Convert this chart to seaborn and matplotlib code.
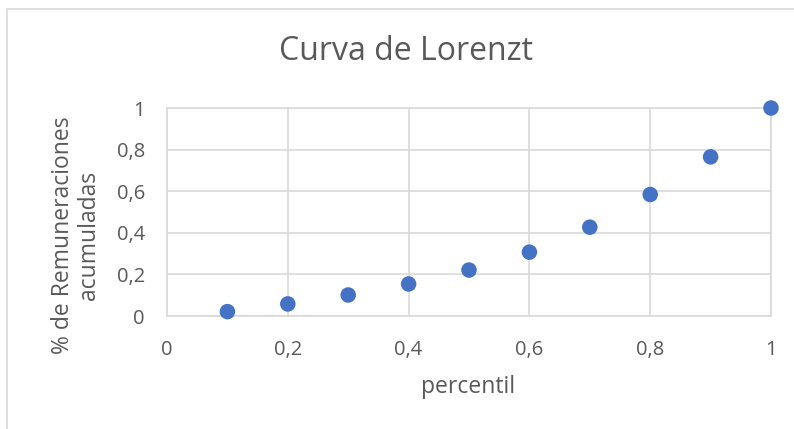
import pandas as pd
import seaborn as sns
import matplotlib.pyplot as plt
from matplotlib.patches import Rectangle

# === Data ===
percentil = [0.1, 0.2, 0.3, 0.4, 0.5, 0.6, 0.7, 0.8, 0.9, 1.0]
remuneraciones = [0.021, 0.058, 0.101, 0.154, 0.221, 0.307, 0.427, 0.584, 0.765, 1.0]
x_ticks = [0, 0.2, 0.4, 0.6, 0.8, 1]
y_ticks = [0, 0.2, 0.4, 0.6, 0.8, 1]

df = pd.DataFrame({"percentil": percentil, "acumulado": remuneraciones})

sns.set_style("white")
plt.rcParams['font.family'] = ['Open Sans', 'DejaVu Sans']

text_color = "#595959"
grid_color = "#D9D9D9"

fig = plt.figure(figsize=(7.94, 4.29), dpi=100)
ax = fig.add_axes([167 / 794, 1 - 316 / 429, 604 / 794, 208 / 429])

sns.scatterplot(data=df, x="percentil", y="acumulado", ax=ax, s=125,
                color="#4472C4", edgecolor="none", clip_on=False, zorder=3)

ax.set_xlim(0, 1)
ax.set_ylim(0, 1)
ax.set_xticks(x_ticks)
ax.set_yticks(y_ticks)
fmt = lambda v: f"{v:g}".replace(".", ",")
ax.set_xticklabels([fmt(v) for v in x_ticks])
ax.set_yticklabels([fmt(v) for v in y_ticks])
ax.tick_params(axis="both", length=0, labelsize=14.5, colors=text_color)
ax.tick_params(axis="x", pad=17)
ax.tick_params(axis="y", pad=16)

ax.grid(True, color=grid_color, linewidth=1.2)
for sp in ax.spines.values():
    sp.set_color(grid_color)
    sp.set_linewidth(1.2)

ax.set_xlabel("percentil", fontsize=16.5, color=text_color)
ax.xaxis.label.set_va("center")
ax.xaxis.set_label_coords((468 - 167) / 604, (316 - 387) / 208)

ax.set_ylabel("% de Remuneraciones\nacumuladas", fontsize=16.5, color=text_color,
              linespacing=1.1)
ax.yaxis.label.set_va("center")
ax.yaxis.set_label_coords((76 - 167) / 604, (316 - 235) / 208)

fig.text(406 / 794, 1 - 52 / 429, "Curva de Lorenzt", ha="center", va="center",
         fontsize=23, color=text_color)

# outer chart border (partially cropped)
fig.patches.append(Rectangle((7 / 794, -0.1), 1.2, 1 - 9 / 429 + 0.1,
                             transform=fig.transFigure, fill=False,
                             edgecolor=grid_color, linewidth=1.2))

fig.savefig("out.png", dpi=100)
